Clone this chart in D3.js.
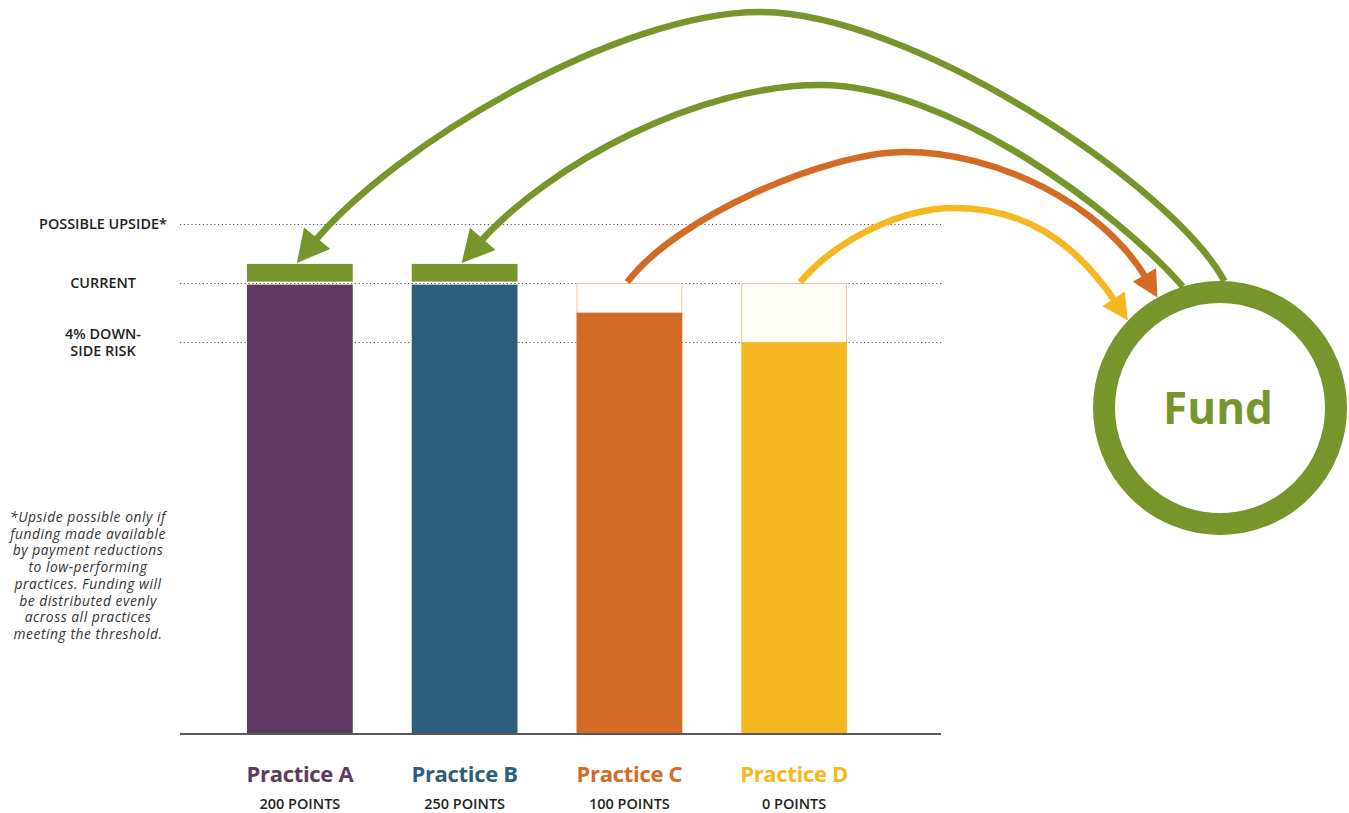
<!DOCTYPE html>
<html>
<head>
<meta charset="utf-8">
<script src="https://cdn.jsdelivr.net/npm/d3@7"></script>
<style>
  html, body { margin: 0; padding: 0; background: #fff; }
  svg { display: block; }
  text { font-family: "Open Sans", Lato, sans-serif; }
</style>
</head>
<body>
<svg id="chart" width="1349" height="813"></svg>
<script>
// ---------------- DATA ----------------
const categories = ["Practice A", "Practice B", "Practice C", "Practice D"];
const points = ["200 POINTS", "250 POINTS", "100 POINTS", "0 POINTS"];
const barValues = [100, 100, 98, 96];          // payment level (% of current)
const upsideValues = [101.3, 101.3, null, null]; // shared upside received
const refLevels = [104, 100, 96];               // possible upside, current, downside
const refLabels = [["POSSIBLE UPSIDE*"], ["CURRENT"], ["4% DOWN-", "SIDE RISK"]];
const colors = ["#5e3a62", "#2b5f7b", "#d36a25", "#f6b820"];
const footnote = ["*Upside possible only if", "funding made available", "by payment reductions",
  "to low-performing", "practices. Funding will", "be distributed evenly",
  "across all practices", "meeting the threshold."];
const fundLabel = "Fund";

// ---------------- LAYOUT ----------------
const svg = d3.select("#chart");
const green = "#76962b";
const x = d3.scaleBand().domain(categories).range([217.5, 876.5]).paddingInner(0.358).paddingOuter(0.179);
const y = d3.scaleLinear().domain([69.5, 104]).range([734, 224]);
const axisX0 = 180, axisX1 = 941;

// reference dotted lines
svg.append("g").selectAll("line").data(refLevels).join("line")
  .attr("x1", axisX0).attr("x2", axisX1)
  .attr("y1", d => Math.round(y(d)) + 0.5).attr("y2", d => Math.round(y(d)) + 0.5)
  .attr("stroke", "#555").attr("stroke-width", 1.2).attr("stroke-dasharray", "1.2,2.6");

// ref labels
const rl = svg.append("g");
refLevels.forEach((lv, i) => {
  const lines = refLabels[i];
  const t = rl.append("text").attr("x", 103).attr("text-anchor", "middle")
    .attr("font-size", 14.4).attr("font-weight", 600).attr("fill", "#231f20");
  const yc = y(lv);
  lines.forEach((s, j) => {
    t.append("tspan").attr("x", 103)
      .attr("y", yc + 5 + (j - (lines.length - 1) / 2) * 17)
      .text(s);
  });
});

// white "lost" boxes for reduced bars
svg.append("g").selectAll("rect").data(categories.filter((c, i) => barValues[i] < 100)).join("rect")
  .attr("x", d => x(d) + 0.5).attr("width", x.bandwidth() - 1)
  .attr("y", y(100) + 0.5)
  .attr("height", d => y(barValues[categories.indexOf(d)]) - y(100))
  .attr("fill", (d) => categories.indexOf(d) === 3 ? "#fffdf6" : "#fff")
  .attr("stroke", "#efc6a8").attr("stroke-width", 1);

// bars
svg.append("g").selectAll("rect").data(categories).join("rect")
  .attr("x", d => x(d)).attr("width", x.bandwidth())
  .attr("y", (d, i) => y(barValues[i]) + (barValues[i] === 100 ? 1.5 : 0))
  .attr("height", (d, i) => y(69.5) - y(barValues[i]) - (barValues[i] === 100 ? 1.5 : 0))
  .attr("fill", (d, i) => colors[i]);

// upside green caps
svg.append("g").selectAll("rect").data(categories.filter((c, i) => upsideValues[i] != null)).join("rect")
  .attr("x", d => x(d)).attr("width", x.bandwidth())
  .attr("y", d => y(upsideValues[categories.indexOf(d)]))
  .attr("height", d => y(100) - y(upsideValues[categories.indexOf(d)]) - 1.5)
  .attr("fill", green);

// baseline
svg.append("line").attr("x1", axisX0).attr("x2", axisX1)
  .attr("y1", y(69.5)).attr("y2", y(69.5))
  .attr("stroke", "#58595b").attr("stroke-width", 2);

// category labels
svg.append("g").selectAll("text").data(categories).join("text")
  .attr("x", d => x(d) + x.bandwidth() / 2).attr("y", 782)
  .attr("text-anchor", "middle").attr("font-size", 22).attr("font-weight", 700)
  .attr("letter-spacing", -0.3)
  .attr("fill", (d, i) => colors[i]).text(d => d);
svg.append("g").selectAll("text").data(points).join("text")
  .attr("x", (d, i) => x(categories[i]) + x.bandwidth() / 2).attr("y", 809)
  .attr("text-anchor", "middle").attr("font-size", 14.5).attr("font-weight", 600)
  .attr("fill", "#231f20").text(d => d);

// footnote (one text per line, compact line box)
svg.append("g").selectAll("text").data(footnote).join("text")
  .attr("text-anchor", "middle").attr("font-family", "Lato, sans-serif")
  .attr("font-size", 13.8).attr("letter-spacing", 0.55)
  .attr("font-style", "italic").attr("fill", "#333")
  .attr("x", 88).attr("y", (d, i) => 522 + i * 16.7).text(d => d);

// fund circle
const fundC = { cx: 1220, cy: 408, r: 116 };
svg.append("circle").attr("cx", fundC.cx).attr("cy", fundC.cy).attr("r", fundC.r)
  .attr("fill", "#fff").attr("stroke", green).attr("stroke-width", 22);
svg.append("text").attr("x", fundC.cx - 2).attr("y", fundC.cy + 16)
  .attr("text-anchor", "middle").attr("font-size", 44).attr("font-weight", 700)
  .attr("fill", green).text(fundLabel);

// ---------------- ARROWS ----------------
function pointOnFund(angleDeg) {
  const a = angleDeg * Math.PI / 180;
  const R = fundC.r + 11;
  return [fundC.cx + R * Math.cos(a), fundC.cy + R * Math.sin(a)];
}
function norm(v) { const l = Math.hypot(v[0], v[1]); return [v[0] / l, v[1] / l]; }

// each arrow: start, start direction, peak, tip, tip direction, head size
const arrows = [
  { color: green, S: pointOnFund(-88), sd: [-0.48, -0.88], sk: 110,
    M: [760, 12], mk1: 150, mk2: 140,
    T: [x("Practice A") + x.bandwidth() / 2 - 3, y(upsideValues[0]) - 1], td: [-0.63, 0.77], ek: 130, len: 32, w: 34 },
  { color: green, S: pointOnFund(-107), sd: [-0.66, -0.75], sk: 100,
    M: [820, 85], mk1: 130, mk2: 120,
    T: [x("Practice B") + x.bandwidth() / 2 - 3, y(upsideValues[1]) - 1], td: [-0.66, 0.75], ek: 110, len: 32, w: 34 },
  { color: colors[2], S: [x("Practice C") + x.bandwidth() / 2 - 2, y(100) - 1], sd: [0.6, -0.8], sk: 80,
    M: [905, 152], mk1: 80, mk2: 90,
    T: pointOnFund(-119.5), td: [0.5, 0.86], ek: 90, len: 26, w: 27 },
  { color: colors[3], S: [x("Practice D") + x.bandwidth() / 2 + 6, y(100) - 1], sd: [0.65, -0.76], sk: 55,
    M: [955, 208], mk1: 55, mk2: 65,
    T: pointOnFund(-136.5), td: [0.55, 0.83], ek: 80, len: 26, w: 27 }
];

const ag = svg.append("g");
arrows.forEach(a => {
  const td = norm(a.td), sd = norm(a.sd);
  const E = [a.T[0] - td[0] * a.len * 0.75, a.T[1] - td[1] * a.len * 0.75];
  const dirX = Math.sign(E[0] - a.S[0]);
  const p = d3.path();
  p.moveTo(a.S[0], a.S[1]);
  p.bezierCurveTo(a.S[0] + sd[0] * a.sk, a.S[1] + sd[1] * a.sk,
                  a.M[0] - dirX * a.mk1, a.M[1], a.M[0], a.M[1]);
  p.bezierCurveTo(a.M[0] + dirX * a.mk2, a.M[1],
                  E[0] - td[0] * a.ek, E[1] - td[1] * a.ek, E[0], E[1]);
  ag.append("path").attr("d", p.toString()).attr("fill", "none")
    .attr("stroke", a.color).attr("stroke-width", 6.5);
  const B = [a.T[0] - td[0] * a.len, a.T[1] - td[1] * a.len];
  const perp = [-td[1], td[0]];
  const tri = [a.T, [B[0] + perp[0] * a.w / 2, B[1] + perp[1] * a.w / 2],
                    [B[0] - perp[0] * a.w / 2, B[1] - perp[1] * a.w / 2]];
  ag.append("path").attr("d", "M" + tri.map(q => q.join(",")).join("L") + "Z").attr("fill", a.color);
});
</script>
</body>
</html>
